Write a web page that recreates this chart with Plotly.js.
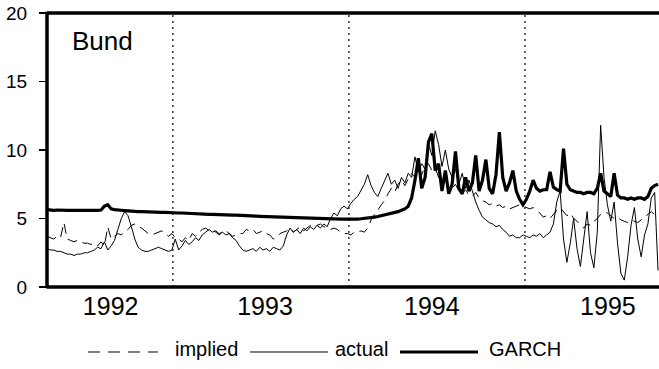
<!DOCTYPE html>
<html>
<head>
<meta charset="utf-8">
<script src="https://cdn.plot.ly/plotly-3.0.1.min.js"></script>
<style>html,body{margin:0;padding:0;background:#fff;}#chart{width:659px;height:369px;}</style>
</head>
<body>
<div id="chart"></div>
<script>
// Weekly observations starting 1992-04-15
const startDate = "1992-04-15";
const stepDays = 7;

const implied = [
3.7,3.6,3.5,3.7,3.6,4.7,3.5,3.4,3.3,3.4,
3.3,3.2,3.2,3.1,3.2,3.0,3.3,3.0,4.4,3.5,
3.7,3.9,3.8,4.0,4.2,4.5,4.6,4.4,4.3,4.1,
3.9,3.8,3.9,4.0,4.1,3.9,3.7,3.9,3.6,3.5,
3.3,3.6,3.4,3.9,3.7,4.0,4.2,4.3,4.1,4.2,
4.0,3.8,4.0,4.1,3.9,3.7,3.8,3.9,3.9,4.2,
4.1,4.2,3.9,4.0,4.1,3.9,3.8,3.5,3.6,3.9,
4.0,4.1,4.3,4.0,4.2,4.4,4.1,4.3,4.5,4.4,
4.5,4.6,4.4,4.3,4.2,4.3,4.2,4.0,3.9,3.9,
3.8,4.0,4.0,4.1,4.0,4.3,4.9,5.3,5.6,6.0,
6.3,6.8,7.2,6.9,7.5,7.8,7.4,7.9,8.3,8.0,
8.6,8.2,8.8,9.0,8.5,8.7,8.0,7.6,7.8,7.4,
7.2,7.5,7.0,6.8,7.1,6.7,6.6,6.9,6.5,6.3,
6.2,6.0,6.1,5.9,6.0,5.8,5.9,5.7,5.8,5.9,
6.0,5.9,5.8,5.7,5.8,5.6,5.4,5.1,5.2,5.0,
5.3,5.6,5.8,5.5,5.2,5.4,5.0,4.8,4.5,4.3,
4.6,4.5,4.8,5.0,5.3,5.5,5.4,5.2,5.0,5.1,
4.9,4.8,4.7,4.9,4.8,4.7,4.9,5.1,5.3,5.5,
5.3,5.2
];

const actual = [
2.8,2.7,2.7,2.6,2.6,2.5,2.4,2.4,2.3,2.4,
2.4,2.5,2.5,2.6,2.7,2.9,2.8,3.3,2.7,3.0,
3.4,4.2,5.0,5.5,5.2,4.4,3.5,2.9,2.7,2.6,
2.6,2.7,2.8,2.9,2.8,2.7,2.6,2.7,3.5,2.7,
3.0,3.4,3.1,3.3,3.6,3.4,3.8,4.0,4.2,4.0,
4.1,3.9,4.0,3.8,3.9,3.6,3.4,3.0,2.7,2.6,
2.7,2.8,2.6,2.9,2.7,2.8,2.6,2.9,2.8,2.7,
3.0,3.8,4.3,4.0,4.2,3.9,4.3,4.1,4.4,4.2,
4.5,4.3,4.6,4.4,5.0,5.4,5.2,5.7,5.9,5.7,
6.1,6.4,6.6,7.0,7.5,8.2,7.4,6.9,6.6,7.2,
7.8,8.3,7.5,7.8,7.2,8.0,7.6,8.3,8.0,9.5,
8.4,9.0,8.6,10.5,9.6,11.4,10.4,8.8,10.0,8.6,
8.0,8.6,7.5,8.3,7.2,7.8,7.0,6.2,5.6,5.1,
4.9,4.7,4.6,4.4,4.5,4.2,4.0,3.7,3.8,3.6,
3.6,3.8,3.7,3.6,3.8,3.7,3.9,3.6,3.8,4.0,
4.6,6.2,7.0,3.5,1.8,3.2,5.0,2.8,1.5,3.5,
5.5,2.5,1.4,4.0,11.8,8.0,6.0,4.8,6.2,3.2,
1.0,0.5,2.2,4.5,5.8,3.5,2.2,3.8,4.6,6.5,
6.9,1.2
];

const garch = [
5.65,5.6,5.6,5.62,5.6,5.58,5.6,5.6,5.58,5.6,
5.6,5.58,5.6,5.6,5.58,5.6,5.62,5.9,6.0,5.7,
5.65,5.6,5.6,5.58,5.55,5.55,5.52,5.5,5.5,5.5,
5.48,5.48,5.47,5.45,5.45,5.44,5.42,5.42,5.4,5.4,
5.4,5.38,5.38,5.36,5.35,5.35,5.34,5.32,5.3,5.3,
5.3,5.28,5.27,5.26,5.25,5.25,5.24,5.22,5.2,5.2,
5.2,5.18,5.17,5.16,5.15,5.15,5.14,5.12,5.1,5.1,
5.1,5.08,5.07,5.06,5.05,5.05,5.04,5.03,5.02,5.02,
5.0,5.0,5.0,5.0,4.98,4.98,4.97,4.96,4.96,4.95,
4.95,4.95,4.96,4.98,5.0,5.02,5.05,5.1,5.15,5.2,
5.25,5.3,5.35,5.4,5.5,5.6,5.7,5.9,6.5,7.8,
9.4,7.2,8.0,10.6,11.2,8.5,9.0,7.0,8.5,6.8,
7.5,9.9,7.2,6.8,8.0,7.0,7.6,9.6,7.0,7.8,
9.3,7.2,6.8,8.2,11.3,8.0,7.0,7.6,8.5,7.0,
6.4,6.0,6.4,7.0,7.8,7.2,7.0,7.1,7.1,8.4,
7.3,7.1,7.0,10.1,7.5,7.1,7.0,6.9,6.9,6.8,
6.9,6.9,6.8,7.2,8.3,7.0,6.8,6.6,8.3,6.7,
6.5,6.5,6.4,6.5,6.4,6.5,6.5,6.4,6.6,7.2,
7.4,7.5
];

const yearLabels = ["1992","1993","1994","1995"];
const yearLabelDates = ["1992-08-25","1993-07-11","1994-06-22","1995-06-22"];
const yearBreaks = ["1993-01-01","1994-01-01","1995-01-01"];
const seriesNames = ["implied","actual","GARCH"];
const panelLabel = "Bund";

function addDays(iso, n) {
  const d = new Date(iso + "T00:00:00Z");
  d.setUTCDate(d.getUTCDate() + n);
  return d.toISOString().slice(0, 10);
}
const dates = implied.map((_, i) => addDays(startDate, i * stepDays));

const FONT = "Liberation Sans, Arial, sans-serif";

const traces = [
  {x: dates, y: implied, name: seriesNames[0], type: "scatter", mode: "lines",
   line: {color: "#000", width: 1, dash: "10px,6px"}},
  {x: dates, y: actual, name: seriesNames[1], type: "scatter", mode: "lines",
   line: {color: "#000", width: 1}},
  {x: dates, y: garch, name: seriesNames[2], type: "scatter", mode: "lines",
   line: {color: "#000", width: 3.2}}
];

const shapes = yearBreaks.map(d => ({
  type: "line", xref: "x", yref: "y", x0: d, x1: d, y0: 0, y1: 20,
  line: {color: "#000", width: 1.2, dash: "2px,4px"}, layer: "above"
}));

// plot frame: thick left, bottom and top edges
[[0, -0.005, 0, 1.005], [0, 0, 1, 0], [0, 1, 1, 1]].forEach(f => shapes.push({
  type: "line", xref: "paper", yref: "paper", x0: f[0], y0: f[1], x1: f[2], y1: f[3],
  line: {color: "#000", width: 3.5}, layer: "above"
}));

// custom legend (paper coordinates)
const legY = -0.2372;
const legendItems = [
  {x0: 0.067, x1: 0.1814, tx: 0.2059, dash: "12px,8px", w: 1},
  {x0: 0.3317, x1: 0.4591, tx: 0.4673, dash: "solid", w: 1},
  {x0: 0.5768, x1: 0.7042, tx: 0.719, dash: "solid", w: 3}
];
legendItems.forEach(it => shapes.push({
  type: "line", xref: "paper", yref: "paper", x0: it.x0, x1: it.x1, y0: legY, y1: legY,
  line: {color: "#000", width: it.w, dash: it.dash}
}));

const annotations = legendItems.map((it, k) => ({
  xref: "paper", yref: "paper", x: it.tx, y: -0.225, xanchor: "left", yanchor: "middle",
  text: seriesNames[k], showarrow: false, font: {family: FONT, size: 20, color: "#000"}
}));
annotations.push({
  xref: "paper", yref: "paper", x: 0.0376, y: 0.898, xanchor: "left", yanchor: "middle",
  text: panelLabel, showarrow: false, font: {family: FONT, size: 26, color: "#000"}
});

const layout = {
  width: 659, height: 369,
  margin: {l: 47, r: 0, t: 13, b: 82, pad: 0},
  paper_bgcolor: "#fff", plot_bgcolor: "#fff",
  showlegend: false,
  font: {family: FONT, color: "#000"},
  xaxis: {
    type: "date", range: ["1992-04-15", "1995-10-06"],
    showgrid: false, zeroline: false, showline: false,
    ticks: "", tickmode: "array", tickvals: yearLabelDates, ticktext: yearLabels,
    tickfont: {family: FONT, size: 25, color: "#000"}, ticklabelstandoff: 2
  },
  yaxis: {
    range: [0, 20], tickmode: "array", tickvals: [0, 5, 10, 15, 20],
    showgrid: false, zeroline: false, showline: false,
    ticks: "outside", ticklen: 7, tickwidth: 1.2, tickcolor: "#000",
    tickfont: {family: FONT, size: 19, color: "#000"}, ticklabelstandoff: 8
  },
  shapes: shapes,
  annotations: annotations
};

Plotly.newPlot("chart", traces, layout, {displayModeBar: false, staticPlot: true});
</script>
</body>
</html>
